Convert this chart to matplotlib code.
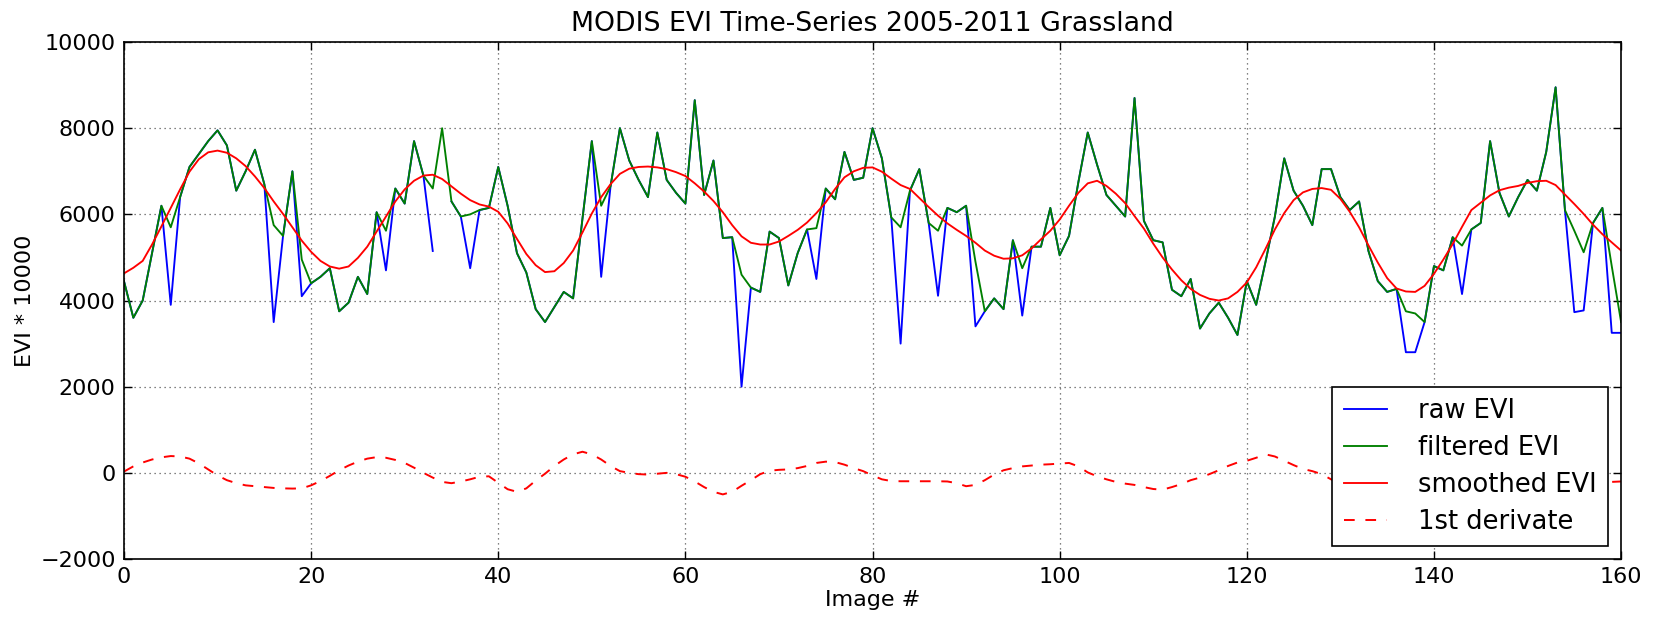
import numpy as np
import matplotlib
matplotlib.use("Agg")
import matplotlib.pyplot as plt

# image index 0..160
image_no = np.arange(161)

filtered_evi = [
    4450, 3600, 4000, 5100, 6200, 5700, 6400, 7100, 7400, 7700,
    7950, 7600, 6550, 7000, 7500, 6700, 5750, 5500, 7000, 4950,
    4400, 4550, 4750, 3750, 3950, 4550, 4150, 6050, 5620, 6600,
    6250, 7700, 6900, 6600, 8000, 6300, 5950, 6000, 6100, 6150,
    7100, 6200, 5100, 4650, 3800, 3500, 3850, 4200, 4050, 5900,
    7700, 6200, 6650, 8000, 7250, 6800, 6400, 7900, 6800, 6500,
    6250, 8650, 6450, 7250, 5450, 5470, 4600, 4300, 4200, 5600,
    5450, 4350, 5100, 5650, 5680, 6600, 6350, 7450, 6800, 6850,
    8000, 7300, 5930, 5700, 6550, 7050, 5800, 5620, 6150, 6050,
    6200, 4900, 3750, 4050, 3800, 5400, 4750, 5250, 5250, 6150,
    5050, 5500, 6750, 7900, 7150, 6450, 6200, 5950, 8700, 5850,
    5400, 5350, 4250, 4100, 4500, 3350, 3700, 3950, 3600, 3200,
    4450, 3900, 4900, 5950, 7300, 6550, 6200, 5750, 7050, 7050,
    6400, 6100, 6300, 5150, 4450, 4200, 4270, 3750, 3700, 3500,
    4800, 4700, 5470, 5275, 5650, 5800, 7700, 6500, 5950, 6400,
    6800, 6550, 7450, 8950, 6100, 5620, 5120, 5800, 6150, 4800,
    3500,
]

# raw EVI differs from the filtered one only at the dropouts
raw_evi = list(filtered_evi)
raw_dropouts = {5: 3900, 16: 3500, 19: 4100, 28: 4700, 33: 5150, 34: np.nan,
                37: 4750, 51: 4550, 66: 2000, 74: 4500, 83: 3000, 87: 4110,
                91: 3400, 96: 3650, 137: 2800, 138: 2800, 143: 4150,
                155: 3730, 156: 3770, 159: 3250, 160: 3250}
for k, v in raw_dropouts.items():
    raw_evi[k] = v

smoothed_evi = [
    4630, 4760, 4920, 5300, 5720, 6150, 6580, 6990, 7280, 7440,
    7480, 7430, 7300, 7120, 6880, 6610, 6300, 6010, 5700, 5390,
    5130, 4920, 4790, 4740, 4790, 4990, 5250, 5600, 5950, 6300,
    6580, 6780, 6900, 6920, 6820, 6650, 6480, 6330, 6230, 6180,
    6060, 5790, 5430, 5080, 4820, 4660, 4680, 4870, 5160, 5580,
    6020, 6400, 6700, 6940, 7060, 7100, 7110, 7090, 7050, 6980,
    6890, 6720, 6530, 6310, 6050, 5750, 5490, 5340, 5300, 5300,
    5370, 5500, 5640, 5810, 6030, 6280, 6590, 6860, 7000, 7080,
    7090, 6990, 6830, 6680, 6590, 6380, 6170, 5970, 5790, 5640,
    5500, 5340, 5160, 5040, 4970, 4980, 5050, 5210, 5420, 5620,
    5880, 6200, 6500, 6720, 6780, 6660, 6480, 6260, 5960, 5670,
    5320, 5000, 4720, 4470, 4270, 4130, 4040, 4000, 4050, 4200,
    4420, 4770, 5200, 5650, 6030, 6330, 6510, 6590, 6610, 6570,
    6360, 6060, 5700, 5280, 4880, 4520, 4280, 4210, 4200, 4340,
    4620, 4950, 5310, 5710, 6100, 6270, 6440, 6560, 6620, 6660,
    6730, 6770, 6780, 6680, 6460, 6240, 6010, 5760, 5540, 5350,
    5160,
]

first_derivate = [
    30, 150, 240, 310, 360, 390, 380, 330, 220, 80,
    -60, -170, -240, -290, -310, -330, -350, -360, -365, -360,
    -290, -190, -70, 60, 170, 260, 330, 365, 350, 300,
    230, 120, 0, -110, -210, -240, -200, -150, -90, -80,
    -230, -380, -440, -360, -180, -20, 160, 310, 430, 490,
    430, 310, 160, 40, 0, -30, -40, -20, 0, -30,
    -90, -200, -330, -440, -500, -440, -300, -170, -30, 50,
    70, 80, 110, 160, 230, 260, 250, 190, 110, 40,
    -60, -150, -190, -195, -195, -195, -195, -195, -200, -240,
    -310, -280, -170, -40, 60, 110, 150, 170, 190, 200,
    215, 230, 150, 10, -80, -150, -210, -250, -280, -330,
    -375, -390, -330, -260, -170, -110, -30, 60, 160, 240,
    280, 350, 430, 380, 280, 180, 90, 40, -30, -150,
    -280, -350, -400, -410, -380, -300, -160, -30, 60, 200,
    300, 360, 380, 360, 280, 180, 130, 100, 70, 60,
    50, 20, -40, -150, -220, -230, -230, -230, -220, -210,
    -200,
]

plt.rcParams['font.family'] = ['DejaVu Sans']

fig = plt.figure(figsize=(16.53, 6.19), dpi=100)
ax = fig.add_axes([0.075, 0.0969, 0.9057, 0.8352])

ax.plot(image_no, raw_evi, color='#0000ff', lw=1.35, label='raw EVI')
ax.plot(image_no, filtered_evi, color='#008000', lw=1.35, label='filtered EVI')
ax.plot(image_no, smoothed_evi, color='#ff0000', lw=1.35, label='smoothed EVI')
ax.plot(image_no, first_derivate, color='#ff0000', lw=1.4,
        linestyle=(0, (5.5, 5.5)), label='1st derivate')

ax.set_xlim(0, 160)
ax.set_ylim(-2000, 10000)
ax.set_xticks(np.arange(0, 161, 20))
ax.set_yticks(np.arange(-2000, 10001, 2000))
ax.grid(True, color='0.35', linestyle=(0, (1, 3)), linewidth=0.9)
ax.tick_params(direction='in', length=5.5, width=1, top=True, right=True,
               labelsize=16, pad=6)
for sp in ax.spines.values():
    sp.set_linewidth(1.2)

ax.set_title('MODIS EVI Time-Series 2005-2011 Grassland', fontsize=19.3, pad=8)
ax.set_xlabel('Image #', fontsize=16, labelpad=2)
ax.set_ylabel('EVI * 10000', fontsize=16, labelpad=4)

leg = ax.legend(loc='lower right', fontsize=18.5, fancybox=False, framealpha=1,
                edgecolor='black', handlelength=1.7, handletextpad=1.2,
                borderpad=0.45, labelspacing=0.42, borderaxespad=0.5)
leg.get_frame().set_linewidth(1.2)

fig.savefig('out.png', dpi=100)
